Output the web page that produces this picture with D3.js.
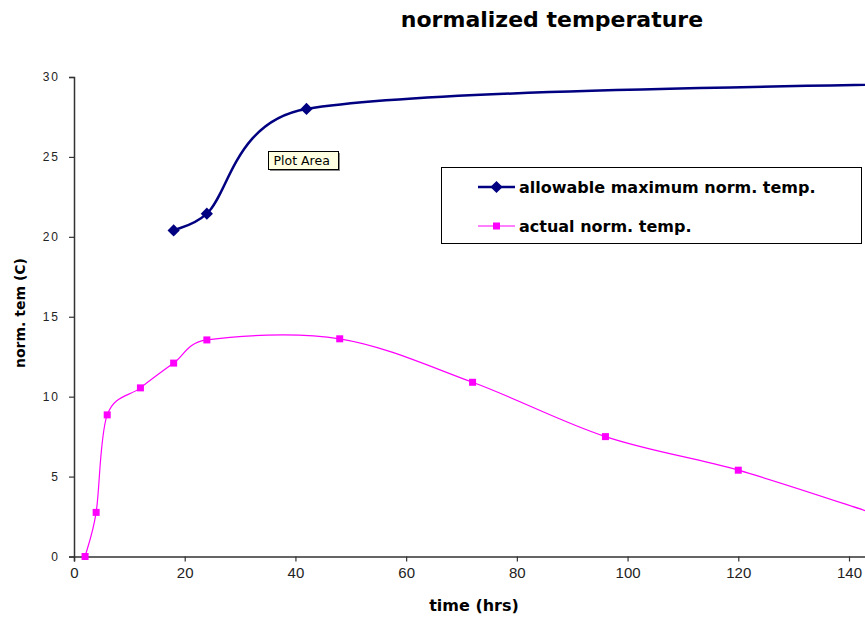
<!DOCTYPE html>
<html>
<head>
<meta charset="utf-8">
<script src="https://cdn.jsdelivr.net/npm/d3@7"></script>
<style>
  body { margin: 0; background: #fff; overflow: hidden; }
  svg { display: block; }
  .title { font-family: "DejaVu Sans", sans-serif; font-weight: bold; font-size: 22px; }
  .axis-label { font-family: "DejaVu Sans", sans-serif; font-weight: bold; }
  .legend-text { font-family: "DejaVu Sans", sans-serif; font-weight: bold; font-size: 16px; }
</style>
</head>
<body>
<svg id="chart" width="865" height="617"></svg>
<script>
// data
const actualHours = [2, 4, 6, 12, 18, 24, 48, 72, 96, 120, 144];
const actualTemp = [0, 2.76, 8.86, 10.55, 12.1, 13.55, 13.62, 10.9, 7.5, 5.4, 2.75];
const allowHours = [18, 24, 42, 168];
const allowTemp = [20.4, 21.45, 28.0, 29.7];
const xTicks = [0, 20, 40, 60, 80, 100, 120, 140];
const yTicks = [0, 5, 10, 15, 20, 25, 30];
const seriesNames = ['allowable maximum norm. temp.', 'actual norm. temp.'];

const svg = d3.select('#chart');

// scales: 0 hrs at px 74, 140 hrs at px 849 (chart is cut at the right)
const x = d3.scaleLinear().domain([0, 160]).range([74, 74 + 160 * 775 / 140]);
const y = d3.scaleLinear().domain([0, 30]).range([556.5, 77]);

// Excel-like smoothed line: cardinal bezier, control arms capped at half a segment
function ExcelCurve(context) { this._context = context; }
ExcelCurve.prototype = {
  areaStart() {}, areaEnd() {},
  lineStart() { this._pts = []; },
  point(px, py) { this._pts.push([+px, +py]); },
  lineEnd() {
    const p = this._pts, c = this._context, n = p.length;
    if (!n) return;
    const dist = (a, b) => Math.hypot(b[0] - a[0], b[1] - a[1]);
    c.moveTo(p[0][0], p[0][1]);
    for (let i = 0; i < n - 1; i++) {
      const p0 = p[Math.max(i - 1, 0)], p1 = p[i], p2 = p[i + 1], p3 = p[Math.min(i + 2, n - 1)];
      const d12 = dist(p1, p2), d02 = dist(p0, p2), d13 = dist(p1, p3);
      let f0 = 1 / 6, f1 = 1 / 6;
      if (d02 / 6 > d12 / 2) f0 = d12 / 2 / d02;
      if (d13 / 6 > d12 / 2) f1 = d12 / 2 / d13;
      c.bezierCurveTo(
        p1[0] + f0 * (p2[0] - p0[0]), p1[1] + f0 * (p2[1] - p0[1]),
        p2[0] - f1 * (p3[0] - p1[0]), p2[1] - f1 * (p3[1] - p1[1]),
        p2[0], p2[1]);
    }
  }
};
const excelCurve = ctx => new ExcelCurve(ctx);

// title (only its last line is in view)
svg.append('text')
  .attr('class', 'title')
  .attr('x', 552)
  .attr('y', 27)
  .attr('text-anchor', 'middle')
  .text('normalized temperature');

// x axis
const xAxisG = svg.append('g')
  .attr('transform', `translate(0,${y(0)})`)
  .call(d3.axisBottom(x).tickValues(xTicks).tickSize(5).tickPadding(6));
xAxisG.select('.domain').attr('stroke', '#333').attr('stroke-width', 1.5);
xAxisG.selectAll('.tick line').attr('stroke', '#333').attr('stroke-width', 1.2);
xAxisG.selectAll('text')
  .attr('fill', '#222')
  .style('font-family', '"Liberation Sans Narrow", "Liberation Sans", sans-serif')
  .style('font-size', '15px');

// y axis
const yAxisG = svg.append('g')
  .attr('transform', `translate(${x(0)},0)`)
  .call(d3.axisLeft(y).tickValues(yTicks).tickSize(5).tickPadding(9));
yAxisG.select('.domain').attr('stroke', '#333').attr('stroke-width', 1.5);
yAxisG.selectAll('.tick line').attr('stroke', '#333').attr('stroke-width', 1.2);
yAxisG.selectAll('text')
  .attr('fill', '#222')
  .style('font-family', '"Liberation Sans", Arial, sans-serif')
  .style('font-size', '12px')
  .style('letter-spacing', '2px');

// axis titles
svg.append('text')
  .attr('class', 'axis-label')
  .attr('x', 474)
  .attr('y', 611)
  .attr('text-anchor', 'middle')
  .style('font-size', '16px')
  .text('time (hrs)');

svg.append('text')
  .attr('class', 'axis-label')
  .attr('transform', 'translate(25,313) rotate(-90)')
  .attr('text-anchor', 'middle')
  .style('font-size', '14px')
  .text('norm. tem (C)');

// lines
const actualData = actualHours.map((h, i) => ({ h, t: actualTemp[i] }));
const allowData = allowHours.map((h, i) => ({ h, t: allowTemp[i] }));

const line = d3.line()
  .x(d => x(d.h))
  .y(d => y(d.t))
  .curve(excelCurve);

svg.append('path')
  .datum(allowData)
  .attr('fill', 'none')
  .attr('stroke', '#000080')
  .attr('stroke-width', 2.5)
  .attr('d', line);

svg.append('path')
  .datum(actualData)
  .attr('fill', 'none')
  .attr('stroke', '#ff00ff')
  .attr('stroke-width', 1.2)
  .attr('d', line);

// markers
const diamond = d3.symbol().type(d3.symbolDiamond2).size(95);

svg.selectAll('.allow-mark').data(allowData)
  .enter().append('path')
  .attr('class', 'allow-mark')
  .attr('transform', d => `translate(${x(d.h)},${y(d.t)})`)
  .attr('d', diamond)
  .attr('fill', '#000080');

svg.selectAll('.actual-mark').data(actualData)
  .enter().append('rect')
  .attr('class', 'actual-mark')
  .attr('x', d => x(d.h) - 3.5)
  .attr('y', d => y(d.t) - 3.5)
  .attr('width', 7)
  .attr('height', 7)
  .attr('fill', '#ff00ff');

// legend
const legend = svg.append('g');
legend.append('rect')
  .attr('x', 441.5).attr('y', 167.5)
  .attr('width', 420).attr('height', 76)
  .attr('fill', '#fff').attr('stroke', '#000').attr('stroke-width', 1);

const legendRows = [
  { name: seriesNames[0], color: '#000080', width: 2.5, y: 187, mark: 'diamond' },
  { name: seriesNames[1], color: '#ff00ff', width: 1.2, y: 226, mark: 'square' }
];

legendRows.forEach(r => {
  legend.append('line')
    .attr('x1', 478).attr('x2', 515)
    .attr('y1', r.y).attr('y2', r.y)
    .attr('stroke', r.color).attr('stroke-width', r.width);
  if (r.mark === 'diamond') {
    legend.append('path')
      .attr('transform', `translate(496.5,${r.y})`)
      .attr('d', diamond)
      .attr('fill', r.color);
  } else {
    legend.append('rect')
      .attr('x', 493).attr('y', r.y - 3.5)
      .attr('width', 7).attr('height', 7)
      .attr('fill', r.color);
  }
  legend.append('text')
    .attr('class', 'legend-text')
    .attr('x', 519)
    .attr('y', r.y + 5.5)
    .text(r.name);
});

// "Plot Area" tooltip seen on the screenshot
const tip = svg.append('g').attr('transform', 'translate(268.5,151.5)');
tip.append('rect')
  .attr('x', 1.5).attr('y', 1.5).attr('width', 70).attr('height', 18)
  .attr('fill', '#888');
tip.append('rect')
  .attr('width', 70).attr('height', 18)
  .attr('fill', '#ffffe1').attr('stroke', '#000').attr('stroke-width', 1);
tip.append('text')
  .attr('x', 5).attr('y', 13.5)
  .style('font-family', '"DejaVu Sans", sans-serif')
  .style('font-size', '12.5px')
  .text('Plot Area');
</script>
</body>
</html>
